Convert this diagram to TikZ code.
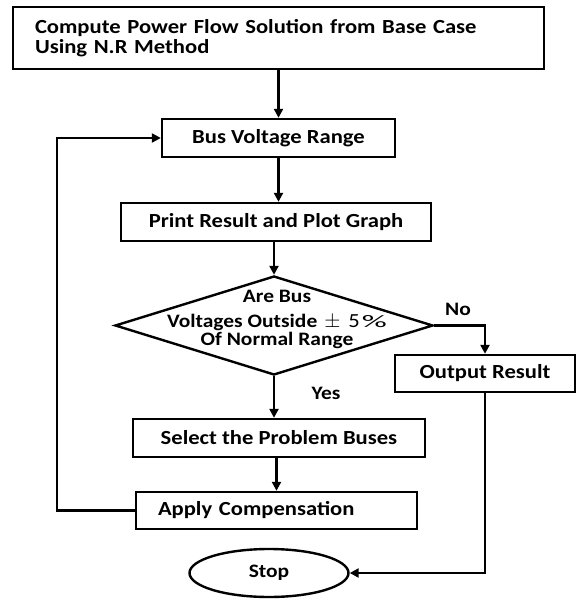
\documentclass[tikz,border=0pt]{standalone}
\usepackage{fontspec}
\usepackage{graphicx}
\setmainfont[FakeStretch=1.13]{Carlito}
\usetikzlibrary{shapes.geometric,arrows.meta}
\begin{document}
\begin{tikzpicture}[x=1pt,y=-1pt,
  line width=2.4pt,
  arr/.style={-{Triangle[length=9pt,width=9pt]}},
  box/.style={draw, line width=2.4pt, inner sep=0pt, align=center,
    font=\bfseries\fontsize{20}{20}\selectfont},
  lbl/.style={inner sep=0pt, font=\bfseries\fontsize{19}{20}\selectfont}]
\useasboundingbox (0,0) rectangle (576,599);
\node[box, minimum height=62pt, text width=487pt, inner xsep=22pt, align=left] (top) at (278.5,38) {Compute Power Flow Solution from Base Case\\Using N.R Method};
\node[box, minimum width=233pt, minimum height=38pt] (bus) at (278.5,138) {Bus Voltage Range};
\node[box, minimum width=310pt, minimum height=38pt] (print) at (276,222) {Print Result and Plot Graph};
\node[diamond, draw, line width=2.4pt, inner sep=0pt, minimum width=318pt, minimum height=99pt] (dec) at (274,325.5) {};
\node[lbl, align=center, font=\bfseries\fontsize{19}{21}\selectfont] (dectext) at (277,319.5) {Are Bus\\[4pt]Voltages Outside\hspace{7pt}{\mdseries\fontsize{20}{20}\selectfont$\pm$\hspace{8pt}5\hspace{2pt}\raisebox{0.5pt}{\scalebox{1.55}[0.88]{\%}}}\\[-3pt]Of Normal Range};
\node[box, minimum width=180pt, minimum height=37pt] (output) at (485,373.5) {Output Result};
\node[box, minimum width=292pt, minimum height=38pt] (select) at (279,438) {Select the Problem Buses};
\node[box, minimum height=37pt, text width=237pt, inner xsep=22pt, align=left] (apply) at (276.5,510.5) {Apply Compensation};
\node[ellipse, draw, line width=2.4pt, inner sep=0pt, minimum width=159pt, minimum height=48pt, font=\bfseries\fontsize{19}{20}\selectfont] (stop) at (269,573) {Stop};
\node[lbl] (no) at (458,309) {No};
\node[lbl] (yes) at (326,393) {Yes};
\coordinate (loopx) at (57,0);
\draw[arr] (top.south -| bus.north) -- (bus.north);
\draw[arr] (bus.south) -- (bus.south |- print.north);
\draw[arr] (dec.north |- print.south) -- (dec.north);
\draw[arr] (dec.south) -- (dec.south |- select.north);
\draw[arr] (apply.north |- select.south) -- (apply.north);
\draw[arr] (dec.east) -- (dec.east -| output.north) -- (output.north);
\draw[arr] (output.south) |- (stop.east);
\draw[arr] (apply.west) -- (apply.west -| loopx) |- (bus.west);
\end{tikzpicture}
\end{document}
